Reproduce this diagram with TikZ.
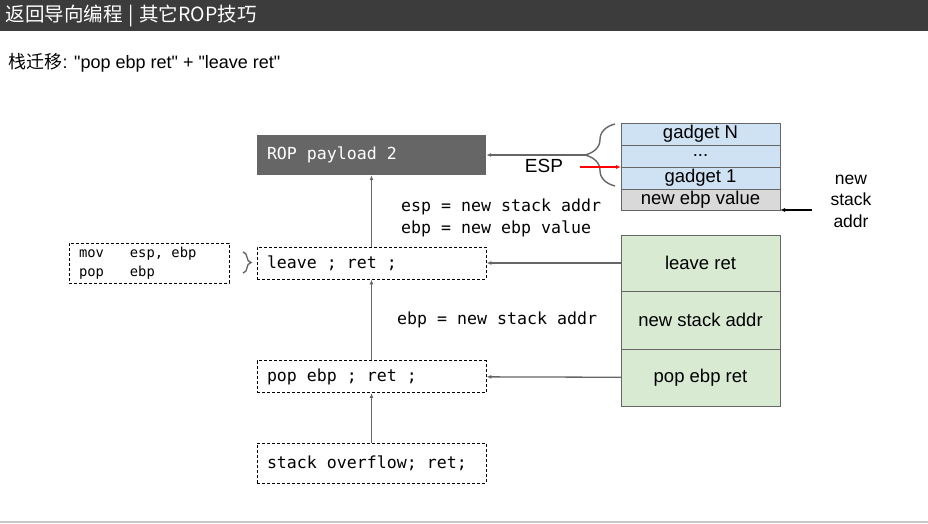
\documentclass[tikz,border=0pt]{standalone}
\usepackage{fontspec}
\setmainfont{Liberation Sans}[Ligatures=TeXOff]
\setmonofont{DejaVu Sans Mono}
\newfontfamily\cjkfont{Noto Sans CJK SC}
\usepackage{xcolor}
\usetikzlibrary{arrows.meta, positioning, decorations.pathreplacing}

\definecolor{bargray}{HTML}{3C3C3C}
\definecolor{boxgray}{HTML}{666666}
\definecolor{stackgreen}{HTML}{D9EAD3}
\definecolor{stackblue}{HTML}{CFE2F3}
\definecolor{ebpgray}{HTML}{D9D9D9}
\definecolor{linegray}{HTML}{C8C8C8}

\newcommand{\monosize}[1]{\ttfamily\fontsize{#1}{19}\selectfont}

\tikzset{
    code/.style={draw, dash pattern=on 3pt off 2pt, line width=0.9pt, text width=209pt, inner xsep=10pt, inner ysep=0pt, align=flush left, font=\monosize{16.6}},
    cell/.style={draw=boxgray, line width=1pt, minimum width=159pt, inner sep=0pt, outer sep=0pt, font=\fontsize{18.5}{21}\selectfont},
    note/.style={inner sep=0pt, anchor=west, font=\monosize{16.6}},
    flow/.style={draw=boxgray, line width=1.3pt, -{Latex[length=5pt,width=4pt]}},
    curly/.style={draw=boxgray, line width=1.4pt, decorate}
}

\begin{document}
\begin{tikzpicture}[x=1pt, y=-1pt]
    \useasboundingbox (0,0) rectangle (928,523);
    \fill[bargray] (0,0) rectangle (928,31);
    \draw[linegray, line width=2pt] (0,521.5) -- (928,521.5);

    \node[anchor=west, text=white, font=\cjkfont\fontsize{19.5}{22}\selectfont] (title) at (2,15.5) {返回导向编程\hspace{0.3em}|\hspace{0.3em}其它ROP技巧};
    \node[anchor=west, font=\fontsize{18}{21}\selectfont] (subtitle) at (5,63) {{\cjkfont 栈迁移}: "pop ebp ret" + "leave ret"};

    \node[fill=boxgray, text=white, text width=209pt, inner xsep=10pt, minimum height=40pt, align=flush left, font=\monosize{16.6}] (rop) at (371.5,155) {ROP payload 2};
    \node[code, minimum height=32pt] (leave) at (371.5,263) {leave ; ret ;};
    \node[code, minimum height=32pt] (pop) at (371.5,376.5) {pop ebp ; ret ;};
    \node[code, minimum height=40pt] (overflow) at (371.5,463) {stack overflow; ret;};
    \node[code, text width=140pt, minimum height=40pt, font=\monosize{13.8}] (movbox) at (149,263)
        {\begin{tabular}{@{}l@{\hspace{26pt}}l@{}}mov & esp, ebp\\pop & ebp\end{tabular}};

    \node[note] (espnote) at (401,207) {esp = new stack addr};
    \node[note] (ebpnote) at (401,229) {ebp = new ebp value};
    \node[note] (popnote) at (397,320) {ebp = new stack addr};

    \node[cell, fill=stackblue, minimum height=22pt] (gadn) at (700.5,134) {gadget N};
    \node[cell, fill=stackblue, minimum height=22pt, below=0pt of gadn] (dots) {...};
    \node[cell, fill=stackblue, minimum height=22pt, below=0pt of dots] (gad1) {gadget 1};
    \node[cell, fill=ebpgray, minimum height=21pt, below=0pt of gad1] (newebp) {new ebp value};

    \node[cell, fill=stackgreen, minimum height=56pt] (lr) at (700.5,263) {leave ret};
    \node[cell, fill=stackgreen, minimum height=58pt, below=0pt of lr] (nsa) {new stack addr};
    \node[cell, fill=stackgreen, minimum height=57pt, below=0pt of nsa] (pr) {pop ebp ret};

    \node[font=\fontsize{19}{22}\selectfont] (esplabel) at (544,166) {ESP};
    \node[align=center, font=\fontsize{17.5}{21.5}\selectfont] (stacklabel) at (851,201) {new\\stack\\addr};

    \coordinate (bracetip) at (585,155);
    \coordinate (esptail) at (580,167);
    \coordinate (addrtail) at (812,210);

    \draw[curly, decoration={brace, amplitude=30pt}] (615,186) -- (615,124);
    \draw[curly, decoration={brace, amplitude=8pt}] (243,252) -- (243,273);

    \draw[flow] (overflow) -- (pop);
    \draw[flow] (pop) -- (leave);
    \draw[flow] (leave) -- (rop);
    \draw[flow] (lr) -- (leave);
    \draw[flow] (pr) -- (pop);
    \draw[flow] (bracetip) -- (rop);
    \draw[red, line width=1.2pt, -{Latex[length=5pt,width=4pt]}] (esptail) -- (gad1.north west);
    \draw[black, line width=1.2pt, -{Latex[length=5pt,width=4pt]}] (addrtail) -- (newebp.south east);
\end{tikzpicture}
\end{document}
